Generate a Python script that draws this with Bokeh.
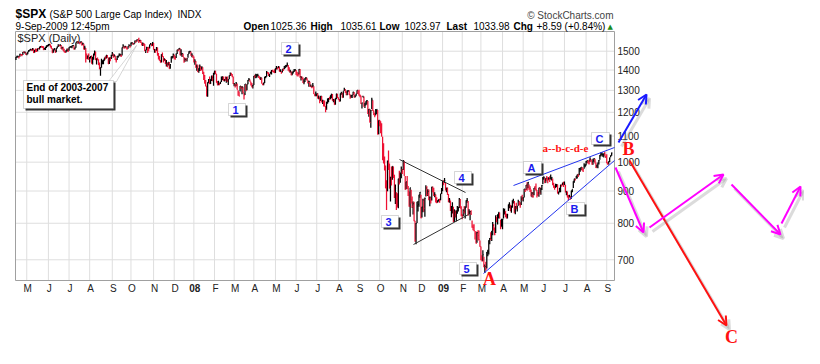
import math
import pandas as pd
from bokeh.plotting import figure
from bokeh.models import (Range1d, ColumnDataSource, Label, Arrow, OpenHead,
                          BoxAnnotation, PolyAnnotation)
from bokeh.embed import file_html
from bokeh.resources import INLINE

# ---------------- data: $SPX daily, 16-Apr-2007 .. 9-Sep-2009 ----------------
close_2007 = [
    1468, 1472, 1472, 1471, 1484, 1481, 1480, 1495, 1494, 1494, 1482,
    1486, 1496, 1502, 1506, 1510, 1508, 1513, 1492, 1506, 1503, 1501, 1514, 1513, 1523, 1525, 1524, 1522, 1508, 1516, 1518, 1530, 1531,
    1536, 1539, 1531, 1517, 1491, 1508, 1509, 1493, 1516, 1523, 1533, 1531, 1534, 1513, 1522, 1503, 1498, 1493, 1506, 1506, 1503,
    1519, 1525, 1525, 1530, 1532, 1510, 1519, 1548, 1553, 1550, 1549, 1546, 1553, 1534, 1542, 1511, 1518, 1483, 1459, 1474, 1455,
    1466, 1472, 1433, 1468, 1477, 1498, 1453, 1454, 1453, 1427, 1407, 1411, 1446, 1446, 1447, 1464, 1463, 1479, 1467, 1432, 1464, 1458, 1474,
    1489, 1472, 1479, 1454, 1452, 1472, 1472, 1484, 1484, 1477, 1520, 1529, 1519, 1526, 1518, 1517, 1525, 1531, 1527,
    1547, 1547, 1540, 1543, 1558, 1553, 1565, 1563, 1554, 1562, 1549, 1539, 1541, 1540, 1501, 1506, 1520, 1516, 1514, 1535, 1541, 1531, 1549,
    1508, 1510, 1502, 1520, 1476, 1475, 1454, 1439, 1481, 1471, 1451, 1459, 1433, 1440, 1417, 1441, 1407, 1428, 1469, 1470, 1481,
    1472, 1463, 1485, 1507, 1505, 1516, 1478, 1486, 1488, 1468, 1446, 1455, 1453, 1460, 1485, 1496, 1498, 1476, 1479, 1468]
up_2007 = [  # high minus close
    1, 3, 3, 3, 2, 4, 5, 1, 4, 4, 12,
    2, 1, 4, 4, 3, 4, 4, 21, 1, 12, 13, 1, 5, 1, 4, 6, 7, 20, 2, 6, 1, 4,
    4, 1, 8, 13, 25, 2, 8, 16, 1, 3, 5, 5, 4, 22, 1, 21, 15, 8, 1, 9, 12,
    3, 2, 2, 1, 3, 22, 2, 1, 3, 5, 6, 4, 2, 19, 5, 31, 12, 35, 29, 3, 33,
    3, 2, 43, 0, 11, 6, 44, 8, 13, 29, 33, 4, 13, 5, 8, 1, 9, 0, 12, 34, 0, 11, 7,
    7, 16, 3, 23, 8, 2, 4, 3, 1, 7, 1, 9, 10, 4, 11, 2, 3, 7, 5,
    1, 2, 7, 1, 2, 5, 0, 3, 22, 0, 13, 9, 8, 6, 39, 2, 4, 7, 10, 2, 4, 10, 3,
    37, 2, 8, 3, 44, 15, 20, 14, 2, 22, 21, 2, 25, 12, 23, 0, 35, 3, 2, 4, 7,
    10, 9, 3, 1, 6, 1, 38, 25, 1, 20, 22, 8, 11, 1, 0, 4, 5, 22, 10, 11]
dn_2007 = [  # close minus low
    15, 7, 6, 10, 14, 4, 8, 15, 4, 7, 1,
    8, 12, 6, 4, 5, 7, 9, 2, 14, 8, 6, 14, 2, 14, 6, 4, 4, 2, 8, 12, 12, 7,
    9, 8, 10, 4, 1, 17, 5, 2, 22, 8, 10, 4, 7, 1, 12, 1, 4, 3, 13, 8, 8,
    16, 6, 6, 14, 5, 1, 9, 29, 6, 3, 8, 7, 7, 2, 8, 1, 10, 43, 1, 18, 1,
    26, 12, 0, 39, 23, 20, 0, 25, 2, 1, 3, 40, 34, 16, 17, 16, 8, 19, 2, 0, 32, 12, 16,
    15, 8, 9, 1, 12, 20, 7, 12, 12, 8, 44, 10, 5, 8, 3, 9, 12, 4, 8,
    19, 9, 4, 6, 14, 4, 12, 6, 8, 8, 3, 7, 12, 11, 0, 16, 14, 26, 14, 20, 5, 3, 20,
    0, 18, 10, 18, 0, 20, 6, 0, 42, 3, 11, 11, 2, 21, 1, 17, 0, 21, 31, 10, 17,
    15, 9, 22, 22, 5, 10, 0, 10, 19, 0, 8, 12, 5, 16, 21, 11, 5, 1, 12, 3]

close_2008 = [
    1447, 1447, 1412, 1416, 1390, 1409, 1420, 1401, 1416, 1381, 1373, 1333, 1325, 1311, 1339, 1352, 1331, 1354, 1362, 1356, 1379,
    1395, 1381, 1337, 1326, 1337, 1331, 1339, 1349, 1367, 1349, 1350, 1349, 1360, 1343, 1353, 1372, 1381, 1380, 1368, 1331,
    1331, 1327, 1334, 1304, 1293, 1273, 1321, 1309, 1316, 1288, 1277, 1331, 1298, 1330, 1350, 1353, 1341, 1326, 1315, 1323,
    1370, 1368, 1369, 1370, 1372, 1366, 1355, 1361, 1333, 1328, 1334, 1365, 1366, 1390, 1388, 1376, 1380, 1389, 1398, 1396, 1391, 1386,
    1409, 1414, 1408, 1418, 1393, 1398, 1388, 1404, 1403, 1409, 1424, 1425, 1427, 1413, 1391, 1394, 1376, 1385, 1391, 1398, 1400,
    1386, 1378, 1377, 1404, 1361, 1362, 1358, 1336, 1340, 1360, 1360, 1351, 1338, 1343, 1318, 1318, 1314, 1322, 1283, 1278, 1280,
    1285, 1262, 1263, 1252, 1274, 1245, 1253, 1240, 1228, 1215, 1245, 1260, 1261, 1260, 1277, 1282, 1253, 1258, 1234, 1263, 1284, 1267,
    1260, 1249, 1285, 1289, 1266, 1296, 1305, 1290, 1286, 1293, 1298, 1279, 1267, 1275, 1278, 1292, 1267, 1272, 1282, 1301, 1283,
    1278, 1275, 1237, 1242, 1268, 1225, 1232, 1249, 1252, 1193, 1214, 1156, 1207, 1255, 1207, 1188, 1186, 1209, 1213, 1106, 1166,
    1161, 1114, 1099, 1057, 996, 985, 910, 899, 1003, 998, 908, 946, 941, 985, 955, 897, 908, 877, 849, 941, 930, 954, 969,
    966, 1006, 953, 905, 931, 919, 899, 852, 911, 873, 851, 859, 807, 752, 800, 852, 857, 888, 896,
    816, 849, 871, 845, 876, 910, 889, 899, 874, 880, 869, 913, 904, 885, 888, 872, 863, 868, 873, 869, 891, 903]
up_2008 = [
    24, 9, 35, 13, 38, 1, 9, 19, 3, 33, 18, 42, 25, 11, 0, 3, 37, 0, 11, 17, 7,
    1, 15, 44, 19, 10, 6, 2, 19, 0, 18, 5, 19, 6, 25, 1, 1, 7, 7, 12, 37,
    4, 4, 6, 29, 8, 21, 0, 12, 4, 29, 11, 0, 32, 0, 0, 7, 12, 16, 20, 4,
    0, 8, 12, 10, 9, 6, 12, 3, 28, 5, 4, 1, 4, 5, 2, 12, 0, 2, 2, 6, 6, 18,
    1, 7, 6, 3, 26, 6, 6, 0, 7, 12, 0, 1, 13, 13, 23, 8, 18, 6, 6, 7, 6,
    14, 13, 11, 1, 44, 8, 9, 26, 14, 0, 5, 10, 11, 4, 24, 10, 9, 13, 37, 5, 15,
    0, 24, 13, 19, 0, 29, 3, 13, 25, 13, 2, 2, 3, 10, 0, 2, 30, 2, 25, 0, 0, 17,
    8, 11, 0, 4, 23, 0, 7, 16, 10, 8, 3, 22, 13, 4, 0, 1, 25, 5, 2, 0, 18,
    25, 6, 38, 1, 7, 46, 11, 0, 3, 58, 0, 58, 4, 10, 47, 20, 12, 6, 0, 104, 0,
    6, 47, 54, 40, 76, 36, 78, 37, 3, 46, 87, 2, 43, 0, 29, 58, 14, 19, 44, 0, 39, 9, 15,
    9, 1, 52, 46, 0, 32, 18, 46, 0, 31, 31, 7, 58, 55, 1, 13, 11, 0, 1,
    72, 1, 4, 30, 3, 9, 27, 7, 31, 2, 11, 1, 11, 26, 8, 17, 17, 2, 0, 6, 0, 7]
dn_2008 = [
    8, 20, 0, 20, 0, 22, 25, 6, 14, 1, 23, 0, 6, 40, 69, 18, 0, 23, 17, 12, 57,
    17, 1, 0, 1, 13, 7, 8, 9, 17, 2, 7, 2, 23, 1, 27, 18, 11, 9, 4, 0,
    11, 13, 14, 0, 18, 1, 26, 1, 34, 1, 20, 53, 0, 29, 20, 7, 0, 3, 0, 14,
    44, 8, 10, 9, 3, 6, 1, 11, 0, 3, 10, 30, 7, 24, 6, 6, 15, 7, 21, 4, 3, 1,
    24, 11, 5, 8, 0, 8, 6, 16, 8, 5, 14, 11, 8, 16, 0, 7, 2, 11, 8, 8, 6,
    11, 9, 9, 27, 0, 14, 6, 0, 11, 20, 8, 3, 5, 26, 1, 1, 4, 6, 0, 6, 8,
    13, 0, 5, 12, 24, 0, 16, 14, 2, 15, 34, 22, 16, 4, 18, 19, 1, 13, 0, 29, 25, 3,
    4, 1, 37, 10, 0, 30, 8, 1, 9, 16, 5, 1, 6, 9, 14, 14, 0, 5, 10, 18, 0,
    3, 7, 0, 25, 0, 0, 13, 18, 17, 0, 33, 0, 73, 41, 1, 0, 8, 22, 20, 0, 59,
    21, 3, 1, 50, 0, 15, 1, 59, 104, 26, 0, 80, 23, 47, 11, 20, 50, 37, 1, 96, 8, 26, 26,
    8, 34, 1, 1, 25, 12, 15, 2, 92, 13, 5, 33, 1, 4, 59, 51, 22, 38, 18,
    1, 32, 38, 11, 57, 28, 5, 15, 4, 29, 9, 44, 8, 1, 8, 9, 2, 6, 7, 7, 21, 13]

close_2009 = [
    932, 927, 935, 907, 910, 890, 870, 872, 843, 844, 850, 805, 840, 828, 832, 837, 846, 874, 845, 826,
    825, 839, 832, 846, 869, 870, 827, 834, 835, 827, 789, 788, 779, 770, 743, 773, 765, 753, 735,
    701, 696, 713, 683, 683, 677, 720, 721, 751, 757, 754, 778, 794, 784, 769, 823, 806, 814, 833, 816, 788, 798,
    811, 834, 843, 836, 816, 825, 857, 859, 842, 852, 865, 870, 832, 850, 844, 852, 866, 858, 855, 874, 873,
    878, 907, 904, 920, 907, 929, 909, 908, 884, 893, 883, 910, 908, 904, 888, 887, 910, 893, 907, 919,
    943, 945, 932, 943, 940, 939, 942, 939, 945, 946, 924, 912, 911, 918, 921, 893, 895, 901, 920, 919, 927, 919,
    923, 896, 899, 881, 880, 883, 879, 901, 906, 933, 941, 940, 951, 955, 954, 976, 979, 982, 980, 975, 987, 988,
    1003, 1006, 1003, 997, 1011, 1007, 994, 1006, 1013, 1004, 980, 990, 997, 1007, 1026, 1026, 1028, 1028, 1031, 1029, 1021,
    998, 995, 1003, 1016, 1025, 1034]
up_2009 = [
    2, 9, 9, 20, 1, 22, 20, 5, 26, 8, 14, 45, 1, 10, 7, 15, 4, 3, 29, 25,
    1, 3, 19, 5, 1, 7, 41, 8, 0, 12, 19, 8, 18, 8, 34, 2, 15, 26, 16,
    34, 16, 12, 25, 5, 18, 0, 5, 1, 1, 20, 0, 10, 14, 19, 0, 13, 13, 0, 16, 22, 15,
    2, 11, 0, 0, 12, 3, 0, 5, 14, 1, 5, 5, 36, 1, 18, 0, 6, 10, 9, 9, 15,
    2, 0, 3, 0, 22, 1, 13, 8, 21, 4, 14, 0, 9, 21, 15, 10, 1, 20, 3, 1,
    4, 5, 13, 0, 11, 7, 4, 11, 11, 0, 18, 16, 7, 6, 2, 29, 3, 10, 1, 3, 1, 12,
    9, 25, 0, 17, 7, 5, 4, 0, 0, 0, 0, 1, 0, 1, 5, 3, 1, 0, 2, 2, 9, 5,
    1, 0, 3, 12, 7, 4, 11, 7, 1, 9, 19, 1, 2, 1, 1, 11, 10, 5, 1, 10, 4,
    31, 5, 0, 1, 1, 2]
dn_2009 = [
    33, 8, 8, 5, 14, 3, 6, 10, 6, 26, 21, 1, 36, 11, 26, 9, 11, 28, 0, 5,
    13, 18, 3, 32, 22, 8, 5, 7, 26, 2, 2, 8, 2, 16, 0, 28, 13, 2, 1,
    2, 0, 16, 2, 16, 4, 42, 12, 37, 16, 2, 28, 28, 5, 3, 51, 3, 18, 18, 2, 5, 8,
    28, 20, 17, 18, 2, 11, 20, 14, 6, 21, 18, 10, 2, 23, 2, 17, 13, 4, 8, 19, 4,
    12, 28, 7, 17, 6, 20, 6, 11, 2, 13, 5, 24, 5, 3, 9, 3, 29, 2, 19, 16,
    20, 7, 6, 15, 6, 13, 6, 9, 6, 11, 5, 1, 7, 8, 8, 1, 6, 5, 24, 5, 8, 6,
    3, 0, 13, 2, 11, 4, 7, 26, 10, 23, 13, 5, 10, 13, 7, 23, 13, 10, 11, 10, 11, 6,
    15, 9, 9, 5, 9, 5, 3, 15, 12, 9, 1, 10, 19, 15, 17, 5, 2, 8, 14, 6, 6,
    2, 4, 11, 15, 7, 10]

nyse_holidays = ["2007-05-28", "2007-07-04", "2007-09-03", "2007-11-22", "2007-12-25",
                 "2008-01-01", "2008-01-21", "2008-02-18", "2008-03-21", "2008-05-26",
                 "2008-07-04", "2008-09-01", "2008-11-27", "2008-12-25",
                 "2009-01-01", "2009-01-19", "2009-02-16", "2009-04-10", "2009-05-25",
                 "2009-07-03", "2009-09-07"]
price_ticks = [700, 800, 900, 1000, 1100, 1200, 1300, 1400, 1500]
quote_names = ["Open", "High", "Low", "Last", "Chg"]
quote_values = ["1025.36", "1035.61", "1023.97", "1033.98", "+8.59 (+0.84%)"]
wave_labels = ["1", "2", "3", "4", "5"]
abc_labels = ["A", "B", "C"]

# ---------------- assemble ----------------
close = close_2007 + close_2008 + close_2009
ups = up_2007 + up_2008 + up_2009
dns = dn_2007 + dn_2008 + dn_2009
n = min(len(close), len(ups), len(dns))
close, ups, dns = close[:n], ups[:n], dns[:n]
dates = pd.bdate_range("2007-04-16", "2009-09-09", freq="C", holidays=nyse_holidays)
dates = list(dates[-n:]) if len(dates) >= n else list(dates) + [dates[-1]] * (n - len(dates))

RED = "#ee1133"
colors = ["#000000" if i == 0 or close[i] >= close[i - 1] else RED for i in range(n)]
src = ColumnDataSource(dict(
    x=list(range(n)), xr=[i + 0.7 for i in range(n)], close=close,
    high=[c + u for c, u in zip(close, ups)], low=[c - d for c, d in zip(close, dns)], color=colors))

month_idx, month_txt, month_bold = [], [], []
for i in range(1, n):
    if dates[i].month != dates[i - 1].month:
        month_idx.append(i)
        if dates[i].month == 1:
            month_txt.append(dates[i].strftime("%y"))
            month_bold.append(True)
        else:
            month_txt.append(dates[i].strftime("%b")[0])
            month_bold.append(False)

# ---------------- coordinate frame ----------------
W, H = 804, 348
X_LO, X_HI = -0.46, 608.9        # bar-index range shown in the price panel
P_LO, P_HI = 649.0, 1612.0       # price range shown in the price panel
FL, FR, FT, FB = 15, 614, 31, 280  # price panel edges (px)


def at(X, Y):
    xi = X_LO + (X - FL) * (X_HI - X_LO) / (FR - FL)
    lp = math.log(P_HI) - (Y - FT) * (math.log(P_HI) - math.log(P_LO)) / (FB - FT)
    return xi, math.exp(lp)


p = figure(width=W, height=H,
           x_range=Range1d(at(0, 0)[0], at(W, 0)[0]), y_range=Range1d(at(0, H)[1], at(0, 0)[1]),
           y_axis_type="log", x_axis_location=None, y_axis_location=None,
           output_backend="svg", toolbar_location=None,
           min_border_left=0, min_border_right=0, min_border_top=0, min_border_bottom=0)
p.background_fill_color = "white"
p.border_fill_color = "white"
p.outline_line_color = None
p.grid.visible = False

GRID = "#dedede"
# grid lines of the price panel
p.segment(x0=month_idx, y0=[P_LO] * len(month_idx), x1=month_idx, y1=[P_HI] * len(month_idx),
          line_color=GRID, line_width=1)
p.segment(x0=[X_LO] * len(price_ticks), y0=price_ticks, x1=[X_HI] * len(price_ticks), y1=price_ticks,
          line_color=GRID, line_width=1)
p.quad(left=[X_LO], right=[X_HI], bottom=[P_LO], top=[P_HI], fill_alpha=0,
       line_color="#a0a0a0", line_width=1)

# bars (HLC)
p.segment(x0="x", y0="low", x1="x", y1="high", line_color="color", line_width=1.25, source=src)
p.segment(x0="x", y0="close", x1="xr", y1="close", line_color="color", line_width=1, source=src)


def label(X, Y, text, size="10px", color="#000000", style="normal", font="Liberation Sans",
          align="left"):
    x, y = at(X, Y)
    p.add_layout(Label(x=x, y=y, text=text, text_font=font, text_font_size=size, text_color=color,
                       text_font_style=style, text_align=align, text_baseline="middle"))


# price axis labels (right side)
lab_x = at(FR + 3, 0)[0]
for t in price_ticks:
    p.add_layout(Label(x=lab_x, y=t, text=str(t), text_font="Liberation Sans", text_font_size="10px",
                       text_color="#222222", text_align="left", text_baseline="middle"))
# month labels (bottom)
lab_y = at(0, 287.5)[1]
for i, t, b in zip(month_idx, month_txt, month_bold):
    p.add_layout(Label(x=i + 1, y=lab_y, text=t, text_font="Liberation Sans", text_font_size="10px",
                       text_color="#222222", text_font_style="bold" if b else "normal",
                       text_align="center", text_baseline="middle"))


def box(X0, Y0, X1, Y1, shadow=2):
    a0, b0 = at(X0 + shadow, Y1 + shadow)
    a1, b1 = at(X1 + shadow, Y0 + shadow)
    p.add_layout(BoxAnnotation(left=a0, right=a1, bottom=b0, top=b1, fill_color="#333333", fill_alpha=1,
                               line_color=None))
    a0, b0 = at(X0, Y1)
    a1, b1 = at(X1, Y0)
    p.add_layout(BoxAnnotation(left=a0, right=a1, bottom=b0, top=b1, fill_color="white", fill_alpha=1,
                               line_color="#777777", line_width=1))


def arrow(X0, Y0, X1, Y1, color, width=2, head=9):
    sx0, sy0 = at(X0 + 3, Y0 + 4)
    sx1, sy1 = at(X1 + 3, Y1 + 4)
    p.add_layout(Arrow(x_start=sx0, y_start=sy0, x_end=sx1, y_end=sy1, line_color="#888888",
                       line_alpha=0.3, line_width=width + 1,
                       end=OpenHead(size=head, line_color="#888888", line_alpha=0.3, line_width=width + 1)))
    x0, y0 = at(X0, Y0)
    x1, y1 = at(X1, Y1)
    p.add_layout(Arrow(x_start=x0, y_start=y0, x_end=x1, y_end=y1, line_color=color, line_width=width,
                       end=OpenHead(size=head, line_color=color, line_width=width)))


def line(X0, Y0, X1, Y1, color, width=1):
    x0, y0 = at(X0, Y0)
    x1, y1 = at(X1, Y1)
    p.segment(x0=[x0], y0=[y0], x1=[x1], y1=[y1], line_color=color, line_width=width)


# headings
label(15, 13.5, "$SPX", size="12px", style="bold")
label(49, 13.5, "(S&P 500 Large Cap Index)", size="10px")
label(177, 13.5, "INDX", size="10px")
label(15, 25.5, "9-Sep-2009 12:45pm", size="10px")
for name, val, xn, xv in zip(quote_names, quote_values, [243, 310, 379, 446, 513], [270, 340, 404, 473, 536]):
    label(xn, 25.5, name, size="10px", style="bold")
    label(xv, 25.5, val, size="10px")
label(607, 26, "\u25b2", size="7px", color="#1a8a1a", font="DejaVu Sans")
label(613, 14.5, "\u00a9 StockCharts.com", size="10px", color="#444444", align="right")
label(17, 37.5, "$SPX (Daily)", size="11px", color="#222222")

# triangle (wave 4) and wedge lines
line(399, 159, 465, 192, "#333333")
line(413, 244, 468, 214, "#333333")
line(483, 273, 614, 160, "#2233ee")
line(513, 185, 614, 147, "#2233ee")

# callout
tx, ty = at(108, 81)
tx2, ty2 = at(116, 81)
tx3, ty3 = at(136, 45)
p.add_layout(PolyAnnotation(xs=[tx, tx2, tx3], ys=[ty, ty2, ty3], fill_color="white", fill_alpha=1,
                            line_color="#777777", line_width=1))
box(23, 80, 113, 108)
label(26, 87, "End of 2003-2007", size="10px", style="bold")
label(26, 99, "bull market.", size="10px", style="bold")

# wave boxes
BLUE_T = "#1a1aee"
for t, (bx, by) in zip(wave_labels, [(228, 103), (281, 42), (381, 215), (454, 171), (459, 262)]):
    box(bx, by, bx + 17, by + 12)
    label(bx + 4, by + 6, t, size="11px", color=BLUE_T, style="bold")
for t, (bx, by) in zip(abc_labels, [(523, 161), (566, 202), (591, 132)]):
    box(bx, by, bx + 18, by + 12)
    label(bx + 4, by + 6, t, size="11px", color=BLUE_T, style="bold")

# red labels
label(489, 278.5, "A", size="18px", color="#ff1111", style="bold", font="Liberation Serif", align="center")
label(628, 148.5, "B", size="18px", color="#ff1111", style="bold", font="Liberation Serif", align="center")
label(731, 336.5, "C", size="18px", color="#ff1111", style="bold", font="Liberation Serif", align="center")
label(565, 147, "a--b-c-d-e", size="11px", color="#ff1111", style="bold", font="Liberation Serif",
      align="center")

# projection arrows
arrow(618, 142, 646, 94, "#1a1aff")
arrow(629, 160, 726, 325, "#ff1111")
arrow(615, 167, 643, 232, "#ff00ff")
arrow(649, 227, 723, 174, "#ff00ff")
arrow(731, 184, 780, 234, "#ff00ff")
arrow(781, 223, 800, 186, "#ff00ff")

open("out.html", "w").write(file_html(p, INLINE))
